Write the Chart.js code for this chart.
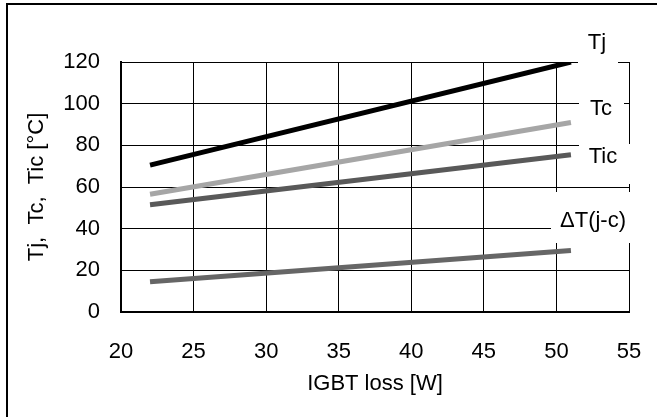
<!DOCTYPE html>
<html>
<head>
<meta charset="utf-8">
<script src="https://cdn.jsdelivr.net/npm/chart.js@4/dist/chart.umd.min.js"></script>
<style>
  body { margin: 0; background: #fff; }
  #wrap { width: 657px; height: 417px; }
</style>
</head>
<body>
<div id="wrap"><canvas id="lossChart" width="657" height="417"></canvas></div>
<script>
// IGBT loss (x) and temperatures
const lossW = [22, 51];
const tj = [70.5, 120];
const tc = [56.5, 91];
const tic = [51.5, 75.5];
const deltaT = [14.5, 29.5];
const seriesNames = ['Tj', 'Tc', 'Tic', '\u0394T(j-c)'];

const FONT = '"Liberation Sans", Arial, sans-serif';

function toPoints(ys) {
    return lossW.map((x, i) => ({ x: x, y: ys[i] }));
}

// Outer frame (only top and left edges are visible in the picture)
const framePlugin = {
    id: 'frame',
    beforeDraw(chart) {
        const ctx = chart.ctx;
        ctx.save();
        ctx.fillStyle = '#fff';
        ctx.fillRect(0, 0, chart.width, chart.height);
        ctx.strokeStyle = '#000';
        ctx.lineWidth = 2;
        ctx.beginPath();
        ctx.moveTo(7, chart.height);
        ctx.lineTo(7, 4);
        ctx.lineTo(chart.width, 4);
        ctx.stroke();
        ctx.restore();
    }
};

// Series names on the right, on white boxes that cut the grid
const namesPlugin = {
    id: 'names',
    afterDraw(chart) {
        const ctx = chart.ctx;
        const r = chart.chartArea.right;
        const spots = [
            { box: [r - 51, 24, 40, 41], x: r - 32, y: 43 },
            { box: [r - 50, 92, 45, 28], x: r - 28, y: 109 },
            { box: [r - 50, 144, 53, 40], x: r - 26, y: 157 },
            { box: [r - 78, 192, 84, 51], x: r - 36, y: 221 }
        ];
        ctx.save();
        ctx.font = '22px ' + FONT;
        ctx.textAlign = 'center';
        ctx.textBaseline = 'middle';
        spots.forEach((s, i) => {
            ctx.fillStyle = '#fff';
            ctx.fillRect(s.box[0], s.box[1], s.box[2], s.box[3]);
            ctx.fillStyle = '#000';
            ctx.fillText(seriesNames[i], s.x, s.y);
        });
        ctx.restore();
    }
};

const lineStyle = { borderWidth: 5, pointRadius: 0, borderCapStyle: 'butt', fill: false, tension: 0 };

new Chart(document.getElementById('lossChart').getContext('2d'), {
    type: 'line',
    data: {
        datasets: [
            Object.assign({ label: seriesNames[0], data: toPoints(tj), borderColor: '#000000' }, lineStyle),
            Object.assign({ label: seriesNames[1], data: toPoints(tc), borderColor: '#a6a6a6' }, lineStyle),
            Object.assign({ label: seriesNames[2], data: toPoints(tic), borderColor: '#595959' }, lineStyle),
            Object.assign({ label: seriesNames[3], data: toPoints(deltaT), borderColor: '#666666' }, lineStyle)
        ]
    },
    options: {
        responsive: false,
        animation: false,
        layout: { padding: { top: 62, right: 28, left: 0, bottom: 0 } },
        plugins: {
            legend: { display: false },
            tooltip: { enabled: false }
        },
        scales: {
            x: {
                type: 'linear',
                min: 20,
                max: 55,
                afterFit: function(scale) { scale.height = 105; },
                ticks: {
                    stepSize: 5,
                    padding: 0,
                    color: '#000',
                    font: { family: FONT, size: 22 },
                    maxRotation: 0
                },
                // invisible tick marks push the labels down without widening the right padding
                grid: { color: '#000', lineWidth: 1, drawTicks: true, tickLength: 27, tickColor: 'rgba(0,0,0,0)' },
                border: { color: '#000', width: 2 },
                title: {
                    display: true,
                    text: 'IGBT loss [W]',
                    color: '#000',
                    font: { family: FONT, size: 22 },
                    padding: { top: 0, bottom: 20 }
                }
            },
            y: {
                min: 0,
                max: 120,
                afterFit: function(scale) { scale.width = 121; },
                ticks: {
                    stepSize: 20,
                    padding: 21,
                    color: '#000',
                    font: { family: FONT, size: 22 }
                },
                grid: { color: '#000', lineWidth: 1, drawTicks: false },
                border: { color: '#000', width: 2 },
                title: {
                    display: true,
                    text: 'Tj,  Tc,  Tic [\u00B0C]',
                    color: '#000',
                    font: { family: FONT, size: 22 },
                    padding: { top: 24, bottom: 0 }
                }
            }
        }
    },
    plugins: [framePlugin, namesPlugin]
});
</script>
</body>
</html>
